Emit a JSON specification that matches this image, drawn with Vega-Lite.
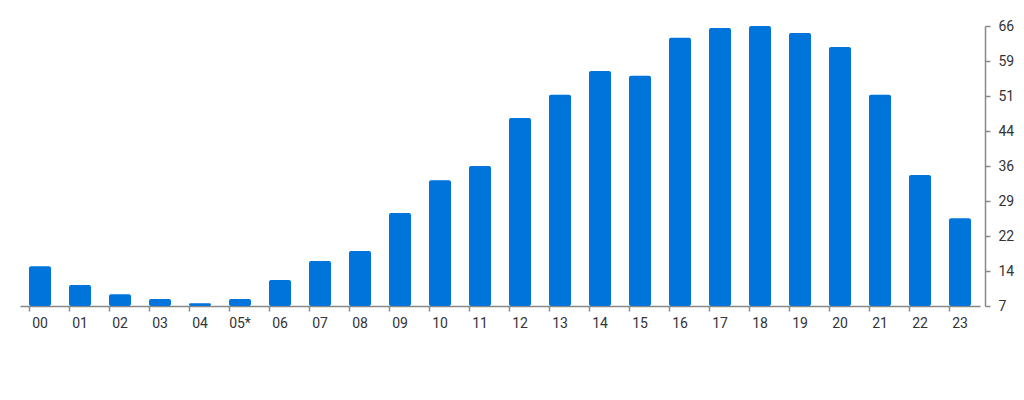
{
  "$schema": "https://vega.github.io/schema/vega-lite/v6.json",
  "width": 960,
  "height": 280,
  "autosize": "none",
  "padding": {"left": 20, "top": 26, "right": 44, "bottom": 94},
  "background": "white",
  "config": {"view": {"stroke": null}, "font": "Roboto"},
  "data": {
    "values": [
      {"hour": "00", "v": 15.4},
      {"hour": "01", "v": 11.4},
      {"hour": "02", "v": 9.5},
      {"hour": "03", "v": 8.5},
      {"hour": "04", "v": 7.6},
      {"hour": "05*", "v": 8.5},
      {"hour": "06", "v": 12.5},
      {"hour": "07", "v": 16.5},
      {"hour": "08", "v": 18.6},
      {"hour": "09", "v": 26.6},
      {"hour": "10", "v": 33.5},
      {"hour": "11", "v": 36.5},
      {"hour": "12", "v": 46.6},
      {"hour": "13", "v": 51.5},
      {"hour": "14", "v": 56.5},
      {"hour": "15", "v": 55.5},
      {"hour": "16", "v": 63.5},
      {"hour": "17", "v": 65.6},
      {"hour": "18", "v": 66.4},
      {"hour": "19", "v": 64.5},
      {"hour": "20", "v": 61.6},
      {"hour": "21", "v": 51.5},
      {"hour": "22", "v": 34.6},
      {"hour": "23", "v": 25.5}
    ]
  },
  "mark": {"type": "bar", "color": "#0074db", "cornerRadius": 2},
  "encoding": {
    "x": {
      "field": "hour",
      "type": "ordinal",
      "sort": null,
      "scale": {"paddingInner": 0.45, "paddingOuter": 0.225},
      "axis": {
        "title": null,
        "labelAngle": 0,
        "bandPosition": 0,
        "tickColor": "#888888",
        "domainColor": "#888888",
        "domainWidth": 1.5,
        "tickWidth": 1.5,
        "tickSize": 5,
        "labelFont": "Roboto",
        "labelFontSize": 14,
        "labelColor": "#333333",
        "labelPadding": 5
      }
    },
    "y": {
      "field": "v",
      "type": "quantitative",
      "scale": {"domain": [7, 66], "nice": false, "zero": false, "clamp": true},
      "axis": {
        "title": null,
        "orient": "right",
        "offset": 5,
        "grid": false,
        "values": [7, 14.375, 21.75, 29.125, 36.49, 43.875, 51.25, 58.625, 66],
        "format": ".0f",
        "tickColor": "#888888",
        "domainColor": "#888888",
        "domainWidth": 1.5,
        "tickWidth": 1.5,
        "tickSize": 5,
        "labelFont": "Roboto",
        "labelFontSize": 14,
        "labelColor": "#333333",
        "labelPadding": 8
      }
    },
    "y2": {"datum": 7}
  }
}
